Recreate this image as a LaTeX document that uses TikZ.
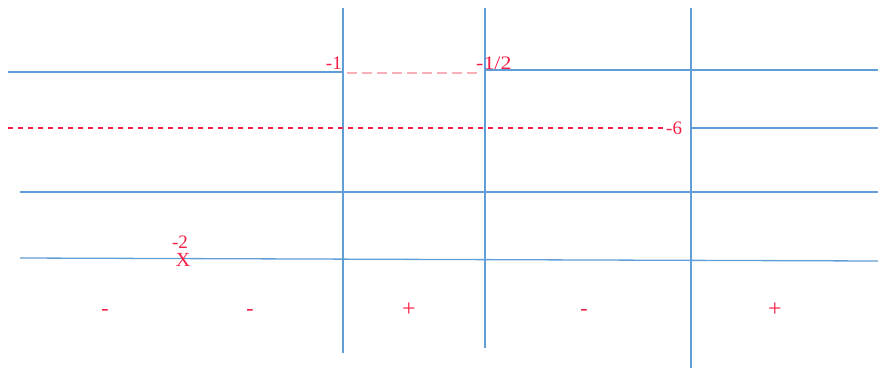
\documentclass[tikz,border=0pt]{standalone}
\usepackage{fontspec}
\setmainfont{Liberation Serif}
\definecolor{lblue}{RGB}{95,158,214}
\definecolor{lred}{RGB}{245,30,70}
\definecolor{lpink}{RGB}{248,175,185}
\begin{document}
\begin{tikzpicture}[x=1pt,y=-1pt,
  bline/.style={draw=lblue,line width=1.3pt},
  rdash/.style={draw=lred,line width=1.1pt,dash pattern=on 5pt off 5pt},
  pdash/.style={draw=lpink,line width=1.8pt,dash pattern=on 10pt off 5pt},
  lab/.style={text=lred,font=\fontsize{19}{19}\selectfont,inner sep=0pt},
  sgn/.style={text=lred,font=\fontsize{22}{22}\selectfont,inner sep=0pt},
  psgn/.style={text=lred,font=\fontsize{24}{24}\selectfont,inner sep=0pt}]
\useasboundingbox (0,0) rectangle (878,370);
% vertical lines
\coordinate (v1t) at (343,8); \coordinate (v1b) at (343,353);
\coordinate (v2t) at (485,8); \coordinate (v2b) at (485,348);
\coordinate (v3t) at (691,8); \coordinate (v3b) at (691,368);
\draw[bline] (v1t) -- (v1b);
\draw[bline] (v2t) -- (v2b);
\draw[bline] (v3t) -- (v3b);
% row 1
\coordinate (h1a) at (8,72); \coordinate (h1b) at (343,72);
\coordinate (h1c) at (485,70); \coordinate (h1d) at (878,70);
\draw[bline] (h1a) -- (h1b);
\draw[bline] (h1c) -- (h1d);
\coordinate (p1) at (347,73); \coordinate (p2) at (478,73);
\draw[pdash] (p1) -- (p2);
\node[lab,anchor=base east] (m1) at (342,69) {-1};
\node[lab,anchor=base west,xscale=1.15] (mh) at (476,69) {-1/2};
% row 2
\coordinate (h2a) at (8,128); \coordinate (h2b) at (666,128);
\coordinate (h2c) at (691,128); \coordinate (h2d) at (878,128);
\draw[rdash] (h2a) -- (h2b);
\node[lab,anchor=base west] (m6) at (666,134) {-6};
\draw[bline] (h2c) -- (h2d);
% row 3
\coordinate (h3a) at (20,192); \coordinate (h3b) at (878,192);
\draw[bline] (h3a) -- (h3b);
% row 4
\coordinate (h4a) at (20,258); \coordinate (h4b) at (878,261);
\draw[bline] (h4a) -- (h4b);
\node[lab,anchor=base] (m2) at (180,248) {-2};
\node[lab,anchor=base,font=\fontsize{20}{20}\selectfont] (xx) at (183,266) {X};
% signs
\node[sgn] (s1) at (105,312) {-};
\node[sgn] (s2) at (250,312) {-};
\node[psgn] (s3) at (409,310) {+};
\node[sgn] (s4) at (584,312) {-};
\node[psgn] (s5) at (775,310) {+};
\end{tikzpicture}
\end{document}
